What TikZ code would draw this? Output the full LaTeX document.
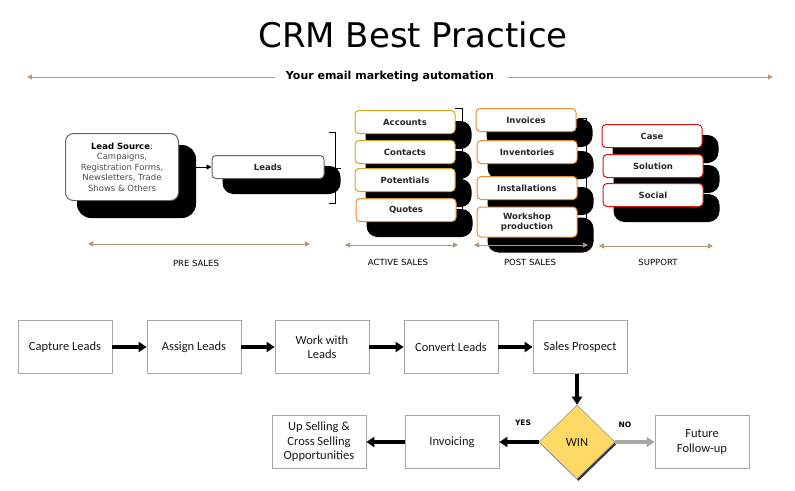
\documentclass[tikz,border=0pt]{standalone}
\usepackage{fontspec}
\setmainfont{DejaVu Sans}
\newfontfamily\calib{Carlito}
\usetikzlibrary{arrows.meta,shapes.geometric,shadows,backgrounds}
\definecolor{brownline}{HTML}{B8947C}
\definecolor{goldbd}{HTML}{D9A520}
\definecolor{orangebd}{HTML}{F08A30}
\definecolor{redbd}{HTML}{E01010}
\definecolor{grayline}{HTML}{A6A6A6}
\definecolor{winfill}{HTML}{FFD966}
\tikzset{
  x=1pt, y=-1pt,
  blob/.style={fill=black, rounded corners=11pt},
  topbox/.style={draw, rounded corners=4pt, fill=white, line width=1pt,
     minimum width=100pt, minimum height=23pt, inner sep=1pt, align=center,
     font=\bfseries\fontsize{8.5}{10}\selectfont, text=black!85},
  goldbox/.style={topbox, draw=goldbd},
  orangebox/.style={topbox, draw=orangebd},
  redbox/.style={topbox, draw=redbd},
  brownarrow/.style={draw=brownline, line width=1pt, {Triangle[length=5pt,width=5pt]}-{Triangle[length=5pt,width=5pt]}},
  brownhead/.style={draw=brownline, line width=1pt, -{Triangle[length=5pt,width=5pt]}},
  seclabel/.style={font=\fontsize{8.5}{9}\selectfont, text=black},
  flowbox/.style={draw=grayline, line width=0.8pt, fill=white, minimum width=94pt, minimum height=53pt,
     inner sep=2pt, align=center, font=\calib\fontsize{12.5}{14.5}\selectfont, text=black!90},
  thick arrow/.style={line width=3.5pt, -{Triangle[length=8pt,width=10pt]}},
  bracketline/.style={draw=black, line width=0.8pt},
}
\newcommand{\blobof}[1]{\fill[blob] ([shift={(11,11)}]#1.north west) rectangle ([shift={(16,15)}]#1.south east);}
\begin{document}
\begin{tikzpicture}
\useasboundingbox (0,0) rectangle (795,490);
% title
\node[font=\fontsize{34}{40}\selectfont] (title) at (413,35) {CRM Best Practice};
\node[font=\bfseries\fontsize{11}{13}\selectfont] (sub) at (390,77) {Your email marketing automation};
\coordinate (subL) at (27,77);
\coordinate (subR) at (773,77);
\draw[brownhead] (sub.west) ++(-7,0) -- (subL);
\draw[brownhead] (sub.east) ++(10,0) -- (subR);

% lead source
\node[draw=black!60, rounded corners=8pt, fill=white, line width=1pt,
      minimum width=113pt, minimum height=67pt, align=center, inner sep=1pt,
      font=\fontsize{8.5}{10.5}\selectfont, text=black!70] (src) at (122,167)
  {{\color{black}\bfseries Lead Source}:\\Campaigns,\\Registration Forms,\\Newsletters, Trade\\Shows \& Others};
\node[topbox, draw=black!60, minimum width=112pt] (leads) at (268,167) {Leads};
\draw[line width=0.8pt, -{Triangle[length=5pt,width=5pt]}] (src) -- (leads);

% active sales
\node[goldbox] (acc) at (405,122) {Accounts};
\node[goldbox] (con) at (405,152) {Contacts};
\node[goldbox] (pot) at (405,180) {Potentials};
\node[orangebox] (quo) at (406,210) {Quotes};

% post sales
\node[orangebox] (inv) at (526,120) {Invoices};
\node[orangebox] (ivt) at (527,152) {Inventories};
\node[orangebox] (ins) at (527,188) {Installations};
\node[orangebox, minimum height=30pt] (wsp) at (527,222) {Workshop\\production};

% support
\node[redbox] (case) at (652,136) {Case};
\node[redbox] (sol) at (653,166) {Solution};
\node[redbox] (soc) at (653,195) {Social};

\begin{scope}[on background layer]
  % brackets
  \coordinate (b1t) at (329,132); \coordinate (b1b) at (329,203);
  \draw[bracketline] (b1t) -- (335,132) -- (335,203) -- (b1b);
  \draw[bracketline] (335,168) -- (341,168);
  \draw[bracketline] (455,108) -- (462,108) -- (462,228);
  \draw[bracketline] (578,118) -- (586,118) -- (586,242);
  % shadows
  \fill[blob, rounded corners=14pt] ([shift={(12,12)}]src.north west) rectangle ([shift={(17,17)}]src.south east);
  \blobof{leads}
  \blobof{acc}\blobof{con}\blobof{pot}\blobof{quo}
  \blobof{inv}\blobof{ivt}\blobof{ins}\blobof{wsp}
  \blobof{case}\blobof{sol}\blobof{soc}
\end{scope}

% section arrows
\coordinate (ps1) at (88,244); \coordinate (ps2) at (310,244);
\coordinate (as1) at (345,245); \coordinate (as2) at (458,245);
\coordinate (po1) at (474,245); \coordinate (po2) at (588,245);
\coordinate (su1) at (599,246); \coordinate (su2) at (713,246);
\draw[brownarrow] (ps1) -- (ps2);
\draw[brownarrow] (as1) -- (as2);
\draw[brownarrow] (po1) -- (po2);
\draw[brownarrow] (su1) -- (su2);
\node[seclabel] (lps) at (196,263) {PRE SALES};
\node[seclabel] (las) at (398,262) {ACTIVE SALES};
\node[seclabel] (lpo) at (530,262) {POST SALES};
\node[seclabel] (lsu) at (658,262) {SUPPORT};

% flow
\node[flowbox] (cap) at (65,347) {Capture Leads};
\node[flowbox] (asg) at (194,347) {Assign Leads};
\node[flowbox] (wrk) at (322,347) {Work with\\Leads};
\node[flowbox] (cnv) at (451,347) {Convert Leads};
\node[flowbox] (spr) at (580,347) {Sales Prospect};
\node[diamond, draw=black!40, fill=winfill, line width=0.6pt,
      drop shadow={shadow xshift=1.5pt, shadow yshift=-2pt, opacity=1, fill=black!80},
      minimum width=76pt, minimum height=74pt, inner sep=0pt,
      font=\calib\fontsize{12.5}{14.5}\selectfont, text=black!90] (win) at (577,442) {WIN};
\node[flowbox] (ivc) at (452,442) {Invoicing};
\node[flowbox] (ups) at (319,442) {Up Selling \&\\Cross Selling\\Opportunities};
\node[flowbox] (fut) at (702,442) {Future\\Follow-up};

\draw[thick arrow] (cap) -- (asg);
\draw[thick arrow] (asg) -- (wrk);
\draw[thick arrow] (wrk) -- (cnv);
\draw[thick arrow] (cnv) -- (spr);
\draw[thick arrow] (spr.south -| win.north) -- (win.north);
\draw[thick arrow] (win.west) -- (ivc.east);
\draw[thick arrow] (ivc) -- (ups);
\draw[thick arrow, draw=grayline] (win.east) -- (fut.west);
\node[font=\bfseries\fontsize{7.5}{8}\selectfont] (yes) at (523,423) {YES};
\node[font=\bfseries\fontsize{7.5}{8}\selectfont] (no) at (625,425) {NO};
\end{tikzpicture}
\end{document}
